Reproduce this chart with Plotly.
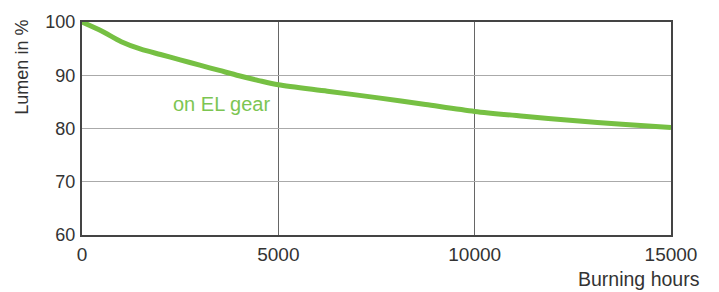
import plotly.graph_objects as go

hours = [0, 500, 1000, 1500, 2000, 2500, 3000, 3500, 4000, 4500, 5000, 6250, 7500, 8750, 10000, 11250, 12500, 13750, 15000]
lumen = [100, 98.3, 96.3, 94.9, 93.9, 92.9, 91.9, 90.9, 89.9, 89.0, 88.2, 87.0, 85.8, 84.5, 83.2, 82.3, 81.5, 80.8, 80.2]

x_ticks = [0, 5000, 10000, 15000]
x_labels = ["0", "5000", "10000", "15000"]
y_ticks = [60, 70, 80, 90, 100]
y_labels = ["60", "70", "80", "90", "100"]

series_label = "on EL gear"
x_title = "Burning hours"
y_title = "Lumen in %"

FONT = "Liberation Sans, Arial, sans-serif"
GREEN = "#76c043"

fig = go.Figure()
fig.add_trace(go.Scatter(
    x=hours, y=lumen, mode="lines",
    line=dict(color=GREEN, width=5, shape="spline", smoothing=0.8),
    showlegend=False, hoverinfo="skip",
))

fig.update_layout(
    width=719, height=292,
    margin=dict(l=82, r=48, t=19, b=57),
    paper_bgcolor="white", plot_bgcolor="white",
    font=dict(family=FONT, size=19, color="#333333"),
    xaxis=dict(
        range=[0, 15000], tickvals=x_ticks, ticktext=x_labels,
        showgrid=True, gridcolor="#666666", gridwidth=1,
        showline=True, linecolor="#444444", linewidth=2, mirror=True,
        zeroline=False, ticks="", ticklabelstandoff=1,
        tickfont=dict(size=19, color="#333333"),
    ),
    yaxis=dict(
        range=[60, 100], tickvals=y_ticks, ticktext=y_labels,
        showgrid=True, gridcolor="#aaaaaa", gridwidth=1,
        showline=True, linecolor="#444444", linewidth=2, mirror=True,
        zeroline=False, ticks="", ticklabelstandoff=1,
        tickfont=dict(size=18, color="#333333"),
    ),
    annotations=[
        dict(text=series_label, x=3560, y=84.6, xref="x", yref="y",
             showarrow=False, font=dict(size=20, color="#7cc552"),
             xanchor="center", yanchor="middle"),
        dict(text=x_title, x=1.052, y=-0.205, xref="paper", yref="paper",
             showarrow=False, font=dict(size=19.5, color="#333333"),
             xanchor="right", yanchor="middle"),
        dict(text=y_title, x=-0.102, y=0.79, xref="paper", yref="paper",
             showarrow=False, textangle=-90, font=dict(size=18, color="#333333"),
             xanchor="center", yanchor="middle"),
    ],
)

fig.write_html(
    "out.html",
    config={"displayModeBar": False},
    post_script="document.body.style.margin='0';document.body.style.overflow='hidden';",
)
